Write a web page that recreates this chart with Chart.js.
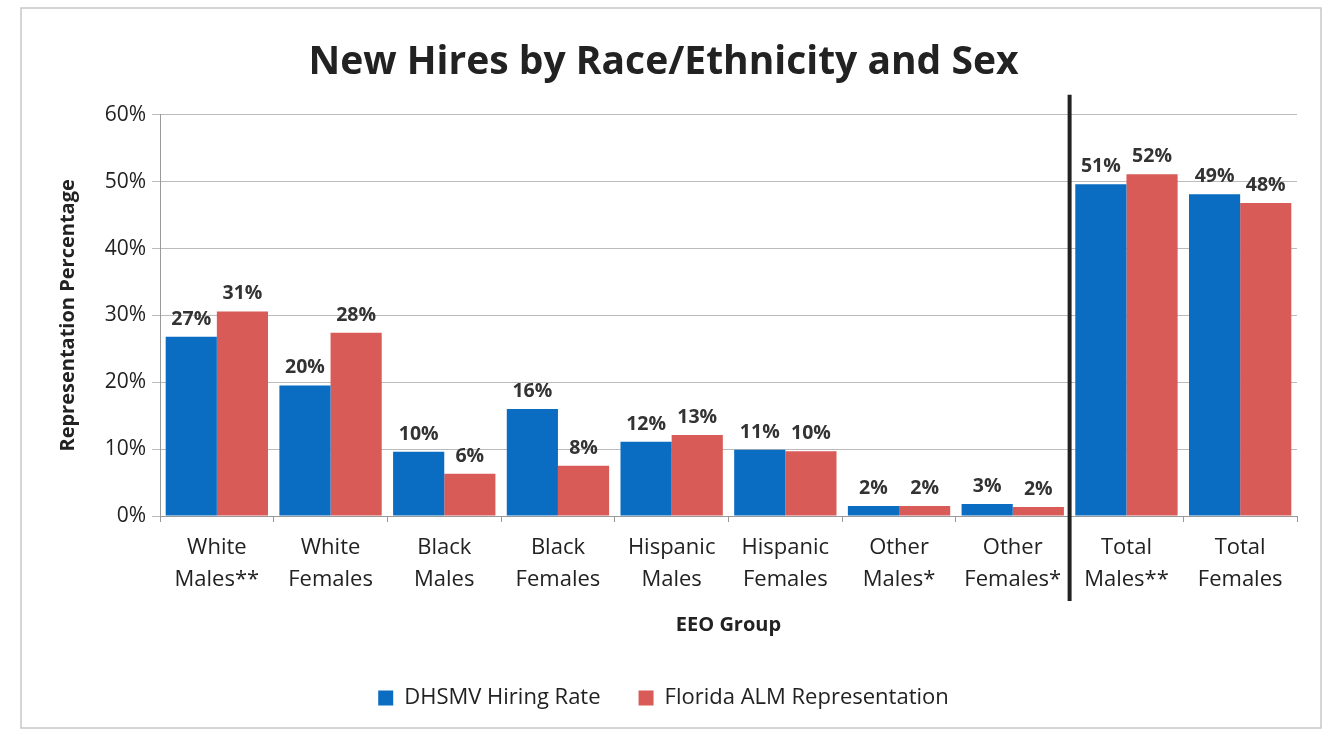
<!DOCTYPE html>
<html>
<head>
<meta charset="utf-8">
<script src="https://cdn.jsdelivr.net/npm/chart.js@4.4.0/dist/chart.umd.min.js"></script>
<style>
html,body{margin:0;padding:0;background:#fff;}
#wrap{position:relative;width:1327px;height:733px;}
canvas{display:block;}
</style>
</head>
<body>
<div id="wrap"><canvas id="c" width="1327" height="733"></canvas></div>
<script>
const categories = [["White","Males**"],["White","Females"],["Black","Males"],["Black","Females"],["Hispanic","Males"],["Hispanic","Females"],["Other","Males*"],["Other","Females*"],["Total","Males**"],["Total","Females"]];
const hiringRate = [26.8, 19.5, 9.6, 16.0, 11.1, 9.9, 1.5, 1.8, 49.6, 48.1];
const almRepresentation = [30.6, 27.4, 6.3, 7.5, 12.1, 9.7, 1.5, 1.35, 51.1, 46.8];
const hiringLabels = ["27%","20%","10%","16%","12%","11%","2%","3%","51%","49%"];
const almLabels = ["31%","28%","6%","8%","13%","10%","2%","2%","52%","48%"];
const yTicks = [0,10,20,30,40,50,60];
const separatorAfterIndex = 7;

const FONT = "'Open Sans', 'Noto Sans', sans-serif";

const labelPlugin = {
  id: 'barLabels',
  afterDatasetsDraw(chart) {
    const ctx = chart.ctx;
    const texts = [hiringLabels, almLabels];
    ctx.save();
    ctx.font = "bold 19.5px " + FONT;
    ctx.fillStyle = '#333';
    ctx.textAlign = 'center';
    ctx.textBaseline = 'bottom';
    chart.data.datasets.forEach((ds, di) => {
      const meta = chart.getDatasetMeta(di);
      meta.data.forEach((bar, i) => {
        ctx.fillText(texts[di][i], bar.x, bar.y - 8);
      });
    });
    ctx.restore();
  }
};

const separatorPlugin = {
  id: 'separator',
  afterDraw(chart) {
    const x = chart.scales.x;
    const xs = (x.getPixelForValue(separatorAfterIndex) + x.getPixelForValue(separatorAfterIndex + 1)) / 2;
    const ctx = chart.ctx;
    ctx.save();
    ctx.strokeStyle = '#222';
    ctx.lineWidth = 4;
    ctx.beginPath();
    ctx.moveTo(xs, chart.chartArea.top - 20);
    ctx.lineTo(xs, chart.chartArea.bottom + 85);
    ctx.stroke();
    ctx.restore();
  }
};

const borderPlugin = {
  id: 'frame',
  beforeDraw(chart) {
    const ctx = chart.ctx;
    ctx.save();
    ctx.fillStyle = '#fff';
    ctx.fillRect(0, 0, chart.width, chart.height);
    ctx.strokeStyle = '#c8c8c8';
    ctx.lineWidth = 1.5;
    ctx.strokeRect(21, 8, 1300, 720);
    ctx.restore();
  }
};

new Chart(document.getElementById('c'), {
  type: 'bar',
  data: {
    labels: categories,
    datasets: [
      { label: 'DHSMV Hiring Rate', data: hiringRate, backgroundColor: '#0A6DC2', borderWidth: 0 },
      { label: 'Florida ALM Representation', data: almRepresentation, backgroundColor: '#D85B58', borderWidth: 0 }
    ]
  },
  options: {
    responsive: false,
    animation: false,
    layout: { padding: { left: 30, right: 30, top: 12, bottom: 14 } },
    datasets: { bar: { categoryPercentage: 0.9, barPercentage: 1.0 } },
    plugins: {
      title: {
        display: true,
        text: 'New Hires by Race/Ethnicity and Sex',
        font: { family: FONT, size: 39, weight: 'bold' },
        color: '#222',
        padding: { top: 27, bottom: 29 }
      },
      legend: {
        position: 'bottom',
        labels: {
          font: { family: FONT, size: 22 },
          color: '#222',
          boxWidth: 15, boxHeight: 15,
          padding: 38
        }
      },
      tooltip: { enabled: false }
    },
    scales: {
      x: {
        offset: true,
        grid: { display: true, drawOnChartArea: false, offset: true, tickLength: 6, color: '#999' },
        border: { color: '#999' },
        ticks: { font: { family: FONT, size: 22, lineHeight: 1.45 }, color: '#222', autoSkip: false, maxRotation: 0, padding: 10 },
        title: { display: true, text: 'EEO Group', font: { family: FONT, size: 20, weight: 'bold' }, color: '#222', padding: { top: 8, bottom: 12 } },
        afterFit(scale) { scale.height = 133; }
      },
      y: {
        min: 0, max: 60,
        afterBuildTicks(scale) { scale.ticks = yTicks.map(v => ({ value: v })); },
        grid: { color: '#bbb', tickLength: 8 },
        border: { color: '#999' },
        ticks: { font: { family: FONT, size: 21 }, color: '#222', callback: v => v + '%', padding: 6 },
        title: { display: true, text: 'Representation Percentage', font: { family: FONT, size: 20, weight: 'bold' }, color: '#222', padding: { top: 26, bottom: 6 } },
        afterFit(scale) { scale.width = 130; }
      }
    }
  },
  plugins: [borderPlugin, labelPlugin, separatorPlugin]
});
</script>
</body>
</html>
